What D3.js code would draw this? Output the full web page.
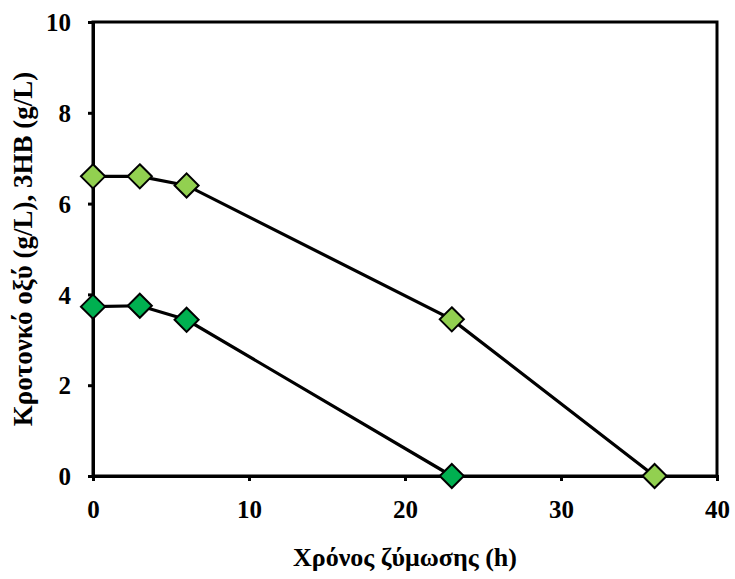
<!DOCTYPE html>
<html>
<head>
<meta charset="utf-8">
<script src="https://cdn.jsdelivr.net/npm/d3@7"></script>
<style>
  html, body { margin: 0; padding: 0; background: #fff; }
  svg text { font-family: "Liberation Serif", "Times New Roman", serif; font-weight: bold; fill: #000; }
</style>
</head>
<body>
<svg id="chart" width="735" height="579"></svg>
<script>
// Fermentation time (h)
const timeCrotonic = [0, 3, 6, 23, 36];
const crotonic = [6.6, 6.6, 6.4, 3.45, 0];
const time3HB = [0, 3, 6, 23];
const hb3 = [3.73, 3.75, 3.44, 0];

const xTicks = [0, 10, 20, 30, 40];
const yTicks = [0, 2, 4, 6, 8, 10];

const xTitle = "Χρόνος ζύμωσης (h)";
const yTitle = "Κροτονκό οξύ (g/L), 3HB (g/L)";

const series = [
  { t: timeCrotonic, v: crotonic, color: "#92D050" },
  { t: time3HB, v: hb3, color: "#00B050" }
];

const svg = d3.select("#chart");
const margin = { left: 93, top: 22, right: 735 - 717, bottom: 579 - 476 };
const W = 735 - margin.left - margin.right;
const H = 579 - margin.top - margin.bottom;

const x = d3.scaleLinear().domain([0, 40]).range([0, W]);
const y = d3.scaleLinear().domain([0, 10]).range([H, 0]);

const g = svg.append("g").attr("transform", `translate(${margin.left},${margin.top})`);

// frame
g.append("rect").attr("x", 0).attr("y", 0).attr("width", W).attr("height", H)
  .attr("fill", "none").attr("stroke", "#000").attr("stroke-width", 3);

// axes
const xAxis = g.append("g").attr("transform", `translate(0,${H})`)
  .call(d3.axisBottom(x).tickValues(xTicks).tickSize(5).tickPadding(19).tickFormat(d3.format("d")));
const yAxis = g.append("g")
  .call(d3.axisLeft(y).tickValues(yTicks).tickSize(5).tickPadding(17).tickFormat(d3.format("d")));
[xAxis, yAxis].forEach(a => {
  a.select(".domain").attr("stroke", "#000").attr("stroke-width", 3);
  a.selectAll(".tick line").attr("stroke", "#000").attr("stroke-width", 3);
  a.selectAll(".tick text").style("font-size", "25px");
});
yAxis.selectAll(".tick text").attr("dy", "0.35em");

// lines and diamond markers
const line = d3.line().x(d => x(d[0])).y(d => y(d[1]));
const diamond = d3.symbol().type(d3.symbolDiamond2).size(370);
series.forEach(s => {
  const pts = s.t.map((t, i) => [t, s.v[i]]);
  g.append("path").datum(pts).attr("d", line)
    .attr("fill", "none").attr("stroke", "#000").attr("stroke-width", 3.2);
});
series.forEach(s => {
  const pts = s.t.map((t, i) => [t, s.v[i]]);
  g.selectAll(null).data(pts).enter().append("path")
    .attr("d", diamond)
    .attr("transform", d => `translate(${x(d[0])},${y(d[1])})`)
    .attr("fill", s.color).attr("stroke", "#000").attr("stroke-width", 2);
});

// axis titles
svg.append("text").attr("x", margin.left + W / 2).attr("y", 566)
  .attr("text-anchor", "middle").style("font-size", "26px").text(xTitle);
svg.append("text").attr("transform", `translate(32,${margin.top + H / 2}) rotate(-90)`)
  .attr("text-anchor", "middle").style("font-size", "27px").text(yTitle);
</script>
</body>
</html>
